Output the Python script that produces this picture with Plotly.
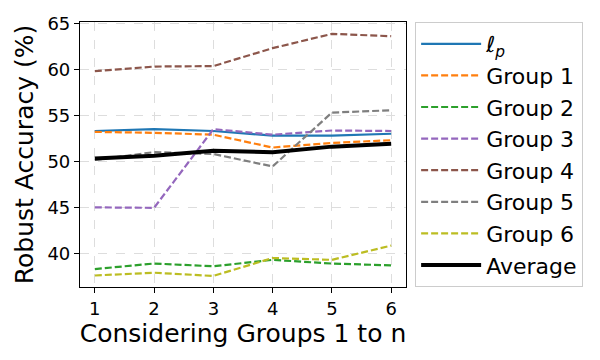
import plotly.graph_objects as go

# values
n_groups = [1, 2, 3, 4, 5, 6]
lp = [53.3, 53.5, 53.3, 52.8, 52.8, 53.0]
group1 = [53.2, 53.1, 52.9, 51.5, 52.0, 52.3]
group2 = [38.3, 38.9, 38.6, 39.3, 38.9, 38.7]
group3 = [45.0, 44.95, 53.5, 52.9, 53.35, 53.3]
group4 = [59.8, 60.3, 60.35, 62.3, 63.85, 63.6]
group5 = [50.15, 51.0, 50.8, 49.45, 55.3, 55.55]
group6 = [37.6, 37.9, 37.55, 39.5, 39.3, 40.85]
average = [50.3, 50.6, 51.15, 51.0, 51.6, 51.9]

fig = go.Figure()
dash = "7px,3px"

fig.add_trace(go.Scatter(x=n_groups, y=lp, mode="lines", name="ℓ<sub><i>p</i></sub>",
                         line=dict(color="#1f77b4", width=2.2)))
groups = [group1, group2, group3, group4, group5, group6]
colors = ["#ff7f0e", "#2ca02c", "#9467bd", "#8c564b", "#7f7f7f", "#bcbd22"]
for i, (vals, c) in enumerate(zip(groups, colors)):
    fig.add_trace(go.Scatter(x=n_groups, y=vals, mode="lines", name=f"Group {i + 1}",
                             line=dict(color=c, width=2.2, dash=dash)))
fig.add_trace(go.Scatter(x=n_groups, y=average, mode="lines", name="Average",
                         line=dict(color="black", width=4)))

axis_style = dict(
    showline=True, linecolor="black", linewidth=1.2, mirror=True,
    ticks="outside", ticklen=5, tickcolor="black",
    showgrid=True, gridcolor="#dddddd", griddash="dash", gridwidth=1,
    zeroline=False, tickfont=dict(size=18, color="black"), automargin=False,
)

fig.update_xaxes(range=[0.75, 6.25], tickvals=n_groups,
                 title=dict(text="Considering Groups 1 to n", font=dict(size=25, color="black"), standoff=4),
                 **axis_style)
fig.update_yaxes(range=[36.35, 65.14], tickvals=[40, 45, 50, 55, 60, 65],
                 title=dict(text="Robust Accuracy (%)", font=dict(size=25, color="black"), standoff=6),
                 **axis_style)

# page body adds ~8px offset, so the figure is sized 8px smaller
fig.update_layout(
    width=592, height=352,
    margin=dict(l=72, r=194, t=14, b=73),
    plot_bgcolor="white", paper_bgcolor="white",
    font=dict(family="DejaVu Sans", color="black"),
    legend=dict(x=1.028, y=1.0, xanchor="left", yanchor="top",
                bordercolor="#cccccc", borderwidth=1, itemwidth=60,
                font=dict(size=22, color="black"), tracegroupgap=0),
    showlegend=True,
)

fig.write_html("out.html")
